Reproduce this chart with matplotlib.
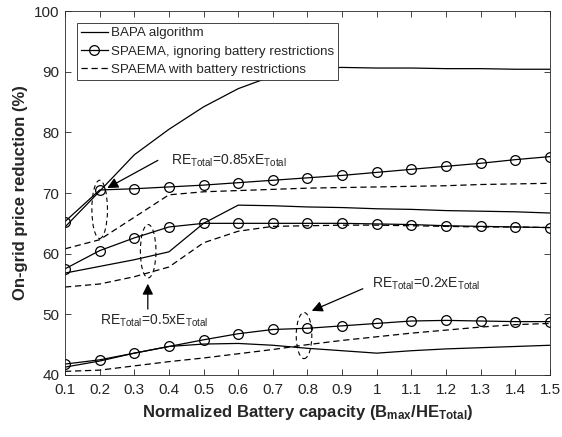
import matplotlib
matplotlib.use('Agg')
import matplotlib.pyplot as plt
from matplotlib.patches import Ellipse
import numpy as np

plt.rcParams['font.family'] = ['Liberation Sans', 'DejaVu Sans']
plt.rcParams['mathtext.fontset'] = 'custom'
plt.rcParams['mathtext.rm'] = 'Liberation Sans'
plt.rcParams['mathtext.bf'] = 'Liberation Sans:bold'

# battery capacity (normalized)
x = [0.1, 0.2, 0.3, 0.4, 0.5, 0.6, 0.7, 0.8, 0.9, 1.0, 1.1, 1.2, 1.3, 1.4, 1.5]

# RE_Total = 0.85 x E_Total
bapa_085 = [64.4, 70.3, 76.3, 80.5, 84.2, 87.2, 89.3, 90.6, 90.7, 90.6, 90.6, 90.5, 90.5, 90.4, 90.4]
ign_085 = [65.3, 70.5, 70.7, 71.0, 71.3, 71.7, 72.1, 72.5, 72.9, 73.4, 73.9, 74.4, 74.9, 75.5, 76.0]
res_085 = [60.8, 62.3, 66.0, 69.7, 70.2, 70.4, 70.6, 70.8, 70.9, 71.0, 71.1, 71.2, 71.4, 71.5, 71.6]

# RE_Total = 0.5 x E_Total
bapa_05 = [56.8, 57.9, 59.0, 60.3, 65.0, 68.0, 67.9, 67.7, 67.6, 67.4, 67.3, 67.1, 67.0, 66.9, 66.7]
ign_05 = [57.5, 60.5, 62.6, 64.4, 65.0, 65.0, 65.0, 65.0, 65.0, 64.9, 64.8, 64.6, 64.5, 64.4, 64.3]
res_05 = [54.5, 55.0, 56.2, 57.8, 61.8, 63.7, 64.5, 64.6, 64.7, 64.7, 64.6, 64.5, 64.4, 64.4, 64.3]

# RE_Total = 0.2 x E_Total
bapa_02 = [41.3, 42.3, 43.6, 44.7, 45.1, 45.2, 44.9, 44.4, 44.0, 43.6, 44.0, 44.3, 44.5, 44.7, 44.9]
ign_02 = [41.8, 42.5, 43.6, 44.7, 45.8, 46.8, 47.5, 47.7, 48.1, 48.5, 48.9, 49.0, 48.9, 48.8, 48.8]
res_02 = [40.6, 40.8, 41.5, 42.2, 42.8, 43.5, 44.2, 45.0, 45.7, 46.3, 46.9, 47.4, 47.9, 48.3, 48.5]

xticks = [0.1, 0.2, 0.3, 0.4, 0.5, 0.6, 0.7, 0.8, 0.9, 1, 1.1, 1.2, 1.3, 1.4, 1.5]
xticklabels = ['0.1', '0.2', '0.3', '0.4', '0.5', '0.6', '0.7', '0.8', '0.9', '1',
               '1.1', '1.2', '1.3', '1.4', '1.5']

txt = '#262626'
lw = 0.9
dash = (0, (5, 3))

fig = plt.figure(figsize=(5.62, 4.37), dpi=100)
ax = fig.add_axes([0.1157, 0.1419, 0.8629, 0.8329])

groups = [(bapa_085, ign_085, res_085), (bapa_05, ign_05, res_05), (bapa_02, ign_02, res_02)]
for i, (b, g, r) in enumerate(groups):
    ax.plot(x, b, color='k', lw=lw, label='BAPA algorithm' if i == 0 else None)
    ax.plot(x, g, color='k', lw=lw, marker='o', ms=7, mfc='none', mew=0.9,
            label='SPAEMA, ignoring battery restrictions' if i == 0 else None)
    ax.plot(x, r, color='k', lw=lw, linestyle=dash,
            label='SPAEMA with battery restrictions' if i == 0 else None)

# dashed ellipses marking each group
for cx, cy, w, h in [(0.2, 67.3, 0.045, 9.6), (0.34, 60.4, 0.045, 8.8), (0.79, 46.5, 0.045, 7.6)]:
    ax.add_patch(Ellipse((cx, cy), w, h, fill=False, ec='k', lw=0.8, ls=(0, (4, 3))))

arrowprops = dict(arrowstyle='-|>', color='k', lw=0.9, mutation_scale=16)
ax.annotate('', xy=(0.215, 70.6), xytext=(0.375, 75.6), arrowprops=arrowprops)
ax.text(0.405, 75.3, r'RE$_{\mathregular{Total}}$=0.85xE$_{\mathregular{Total}}$', fontsize=10,
        color=txt, va='center', ha='left')
ax.annotate('', xy=(0.339, 55.5), xytext=(0.339, 50.4), arrowprops=arrowprops)
ax.text(0.2, 49.0, r'RE$_{\mathregular{Total}}$=0.5xE$_{\mathregular{Total}}$', fontsize=10,
        color=txt, va='center', ha='left')
ax.annotate('', xy=(0.805, 50.4), xytext=(0.967, 54.4), arrowprops=arrowprops)
ax.text(0.985, 55.0, r'RE$_{\mathregular{Total}}$=0.2xE$_{\mathregular{Total}}$', fontsize=10,
        color=txt, va='center', ha='left')

ax.set_xlim(0.1, 1.5)
ax.set_ylim(40, 100)
ax.set_xticks(xticks)
ax.set_xticklabels(xticklabels)
ax.set_yticks([40, 50, 60, 70, 80, 90, 100])
ax.tick_params(direction='in', top=True, right=True, length=4, width=0.6,
               labelsize=11, colors=txt, pad=4)
ax.tick_params(axis='x', pad=6)
for s in ax.spines.values():
    s.set_color(txt)
    s.set_linewidth(0.6)

ax.set_xlabel(r'Normalized Battery capacity (B$\mathregular{_{max}}$/HE$\mathregular{_{Total}}$)',
              fontsize=12, fontweight='bold', color=txt, labelpad=4)
ax.set_ylabel('On-grid price reduction (%)', fontsize=12, fontweight='bold', color=txt, labelpad=4)

leg = ax.legend(loc='upper left', bbox_to_anchor=(0.025, 0.967), borderaxespad=0,
                fontsize=9.6, fancybox=False, framealpha=1, edgecolor=txt,
                handlelength=2.0, handletextpad=0.25, borderpad=0.3, labelspacing=0.45)
leg.get_frame().set_linewidth(0.6)
for t in leg.get_texts():
    t.set_color(txt)

fig.savefig('out.png', dpi=100)
